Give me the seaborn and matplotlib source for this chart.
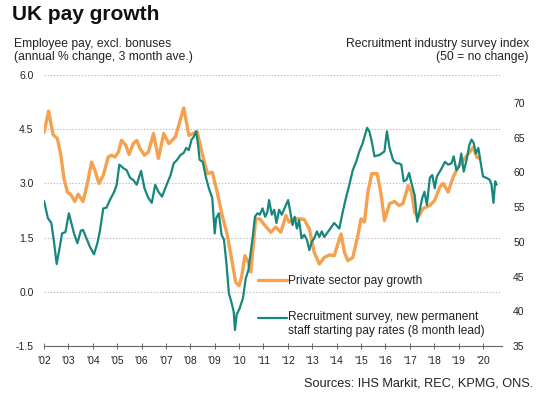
import matplotlib
matplotlib.use("Agg")
import matplotlib.pyplot as plt
from matplotlib.legend_handler import HandlerLine2D
import seaborn as sns
import pandas as pd
import numpy as np

# ---- data (decimal years) ----
pay_years = [2002.0, 2002.19, 2002.37, 2002.55, 2002.69, 2002.82, 2002.96, 2003.1, 2003.26, 2003.4,
             2003.6, 2003.78, 2003.95, 2004.09, 2004.25, 2004.43, 2004.63, 2004.77, 2004.91, 2005.05,
             2005.18, 2005.35, 2005.49, 2005.66, 2005.8, 2005.94, 2006.12, 2006.28, 2006.49, 2006.69,
             2006.91, 2007.12, 2007.39, 2007.73, 2007.94, 2008.28, 2008.49, 2008.7, 2008.9, 2009.1,
             2009.31, 2009.52, 2009.72, 2009.86, 2010.0, 2010.1, 2010.24, 2010.38, 2010.48, 2010.68,
             2010.85, 2011.0, 2011.3, 2011.5, 2011.71, 2011.92, 2012.05, 2012.26, 2012.47, 2012.67,
             2012.88, 2013.08, 2013.29, 2013.49, 2013.7, 2013.9, 2014.18, 2014.32, 2014.46, 2014.66,
             2014.87, 2015.0, 2015.14, 2015.28, 2015.44, 2015.66, 2015.83, 2015.96, 2016.17, 2016.37,
             2016.55, 2016.72, 2016.93, 2017.07, 2017.2, 2017.34, 2017.54, 2017.82, 2018.02, 2018.23,
             2018.37, 2018.57, 2018.78, 2018.98, 2019.19, 2019.4, 2019.6, 2019.74, 2019.86]
pay_growth = [4.41, 5.0, 4.35, 4.24, 3.78, 3.13, 2.76, 2.69, 2.5, 2.7,
              2.5, 3.0, 3.59, 3.36, 3.0, 3.22, 3.73, 3.78, 3.73, 3.87,
              4.19, 4.06, 3.8, 4.1, 4.19, 3.96, 3.78, 3.87, 4.38, 3.69,
              4.38, 4.1, 4.29, 5.09, 4.33, 4.43, 3.82, 3.27, 3.31, 2.76,
              2.11, 1.56, 0.81, 0.26, 0.17, 0.4, 1.0, 0.81, 0.55, 2.02,
              2.02, 1.88, 1.65, 1.79, 1.65, 2.11, 1.93, 2.02, 2.02, 2.0,
              1.74, 1.09, 0.77, 0.95, 1.02, 1.0, 1.6, 1.09, 0.86, 0.95,
              1.56, 2.02, 1.93, 2.76, 3.27, 3.27, 2.67, 1.97, 2.44, 2.5,
              2.39, 2.44, 2.94, 2.76, 2.2, 2.06, 2.3, 2.39, 2.53, 2.9,
              3.0, 2.76, 3.18, 3.45, 3.64, 3.82, 4.0, 3.73, 3.69]

rec_years = [2002.0, 2002.16, 2002.3, 2002.41, 2002.52, 2002.64, 2002.74, 2002.88, 2003.02, 2003.12,
             2003.23, 2003.37, 2003.51, 2003.6, 2003.74, 2003.88, 2004.05, 2004.19, 2004.29, 2004.43,
             2004.56, 2004.7, 2004.88, 2004.98, 2005.09, 2005.25, 2005.39, 2005.53, 2005.66, 2005.8,
             2005.98, 2006.12, 2006.28, 2006.42, 2006.56, 2006.69, 2006.84, 2007.05, 2007.19, 2007.32,
             2007.46, 2007.6, 2007.73, 2007.83, 2007.94, 2008.05, 2008.14, 2008.24, 2008.32, 2008.38,
             2008.51, 2008.63, 2008.76, 2008.9, 2009.0, 2009.06, 2009.17, 2009.28, 2009.38, 2009.48,
             2009.58, 2009.7, 2009.78, 2009.83, 2009.9, 2010.02, 2010.16, 2010.27, 2010.38, 2010.48,
             2010.57, 2010.65, 2010.75, 2010.85, 2010.96, 2011.07, 2011.16, 2011.23, 2011.34, 2011.44,
             2011.53, 2011.64, 2011.75, 2011.86, 2012.01, 2012.1, 2012.19, 2012.28, 2012.37, 2012.46,
             2012.56, 2012.67, 2012.78, 2012.88, 2012.98, 2013.08, 2013.19, 2013.29, 2013.39, 2013.49,
             2013.7, 2013.9, 2014.11, 2014.25, 2014.38, 2014.52, 2014.66, 2014.8, 2014.93, 2015.07,
             2015.14, 2015.25, 2015.34, 2015.44, 2015.55, 2015.76, 2015.96, 2016.06, 2016.17, 2016.31,
             2016.44, 2016.55, 2016.65, 2016.75, 2016.86, 2016.97, 2017.07, 2017.2, 2017.3, 2017.41,
             2017.51, 2017.6, 2017.7, 2017.82, 2017.92, 2018.02, 2018.11, 2018.23, 2018.34, 2018.44,
             2018.57, 2018.71, 2018.8, 2018.91, 2019.02, 2019.11, 2019.21, 2019.33, 2019.44, 2019.53,
             2019.62, 2019.71, 2019.81, 2019.9, 2020.0, 2020.14, 2020.28, 2020.35, 2020.43, 2020.5,
             2020.56]
rec_index = [55.9, 53.4, 52.7, 50.0, 46.8, 49.1, 51.2, 51.4, 54.1, 52.7,
             51.2, 49.8, 51.6, 51.7, 50.5, 49.3, 48.2, 49.8, 51.5, 54.8,
             54.9, 56.0, 57.2, 58.2, 61.1, 60.6, 60.3, 59.2, 58.9, 58.2,
             60.2, 57.7, 56.3, 55.6, 58.2, 57.2, 56.5, 58.4, 59.6, 61.3,
             61.8, 62.5, 62.8, 63.5, 63.2, 64.7, 65.1, 65.9, 63.9, 61.8,
             61.5, 59.4, 57.7, 56.3, 51.2, 53.4, 54.1, 51.0, 50.3, 46.9,
             42.6, 41.1, 39.9, 37.3, 39.5, 40.4, 41.9, 44.7, 45.9, 48.6,
             51.0, 53.6, 54.1, 53.9, 54.8, 53.6, 54.3, 56.0, 53.9, 54.6,
             52.7, 54.6, 53.9, 54.8, 56.0, 54.3, 52.4, 53.6, 51.9, 53.1,
             50.5, 51.0, 50.3, 48.8, 50.0, 50.5, 51.5, 50.7, 51.5, 50.7,
             51.7, 52.7, 51.9, 54.3, 56.3, 58.2, 60.3, 61.5, 63.0, 64.2,
             65.1, 66.4, 65.9, 64.4, 62.3, 62.5, 63.0, 65.9, 63.5, 61.8,
             61.3, 61.3, 61.1, 58.7, 58.9, 59.9, 58.4, 56.7, 52.9, 54.6,
             56.3, 57.2, 55.3, 59.2, 59.6, 57.7, 59.4, 60.1, 60.8, 61.5,
             61.1, 61.3, 62.3, 60.3, 60.8, 62.7, 60.1, 61.8, 63.9, 64.7,
             64.2, 62.7, 63.5, 61.5, 59.4, 59.2, 58.9, 58.2, 55.6, 58.7,
             58.2]

x_tick_vals = list(range(2002, 2021))
x_tick_labels = ["'" + str(y)[2:] for y in x_tick_vals]
left_ticks = [-1.5, 0.0, 1.5, 3.0, 4.5, 6.0]
right_ticks = [35, 40, 45, 50, 55, 60, 65, 70]

pay_label = "Private sector pay growth"
rec_label = "Recruitment survey, new permanent\nstaff starting pay rates (8 month lead)"

ORANGE = "#F6A14F"
TEAL = "#17877D"


class FirstLineHandler(HandlerLine2D):
    """Place the legend line level with the first line of a two-line label."""
    def __init__(self, shift=0.0, **kw):
        super().__init__(**kw)
        self.shift = shift

    def create_artists(self, legend, orig_handle, xdescent, ydescent, width, height,
                       fontsize, trans):
        arts = super().create_artists(legend, orig_handle, xdescent, ydescent, width,
                                      height, fontsize, trans)
        for a in arts:
            yd = np.asarray(a.get_ydata(), dtype=float)
            a.set_ydata(yd + self.shift * fontsize)
        return arts


sns.set_theme(style="white")
plt.rcParams['font.family'] = ['Liberation Sans', 'DejaVu Sans']

df_pay = pd.DataFrame({"year": pay_years, "value": pay_growth})
df_rec = pd.DataFrame({"year": rec_years, "value": rec_index})

fig = plt.figure(figsize=(5.43, 3.99), dpi=100)
ax = fig.add_axes([44 / 543, 53 / 399, 458 / 543, 271 / 399])
ax2 = ax.twinx()

sns.lineplot(data=df_pay, x="year", y="value", ax=ax, color=ORANGE, linewidth=2.4,
             label=pay_label, legend=False)
sns.lineplot(data=df_rec, x="year", y="value", ax=ax2, color=TEAL, linewidth=1.6,
             label=rec_label, legend=False)

ax.set_xlim(2002.0, 2020.78)
ax.set_ylim(-1.5, 6.0)
ax2.set_ylim(35, 74.0)

ax.set_xticks(x_tick_vals)
ax.set_xticklabels(x_tick_labels, fontsize=7.5, color="#222222")
ax.set_yticks(left_ticks)
ax.set_yticklabels([f"{v:.1f}" for v in left_ticks], fontsize=7.5, color="#222222")
ax2.set_yticks(right_ticks)
ax2.set_yticklabels([str(v) for v in right_ticks], fontsize=7.5, color="#222222")

ax.set_xlabel("")
ax.set_ylabel("")
ax2.set_xlabel("")
ax2.set_ylabel("")

ax.yaxis.grid(True, linestyle=(0, (1.2, 1.6)), color="#bdbdbd", linewidth=0.8)
ax.xaxis.grid(False)
ax2.grid(False)

for a in (ax, ax2):
    for s in ("top", "right", "left"):
        a.spines[s].set_visible(False)
ax2.spines["bottom"].set_visible(False)
ax.spines["bottom"].set_color("#666666")
ax.spines["bottom"].set_linewidth(0.8)

ax.tick_params(axis="x", direction="inout", length=4, width=0.7, color="#666666", pad=5, bottom=True)
ax.tick_params(axis="y", length=0, pad=7.5)
ax2.tick_params(axis="y", length=0, pad=8)

# legend
h1, l1 = ax.get_legend_handles_labels()
h2, l2 = ax2.get_legend_handles_labels()
leg = ax2.legend(h1 + h2, l1 + l2, loc="upper left", bbox_to_anchor=(258 / 543, 1 - 275 / 399),
                 bbox_transform=fig.transFigure, frameon=False, fontsize=8.6,
                 handlelength=2.4, handletextpad=0.15, labelspacing=2.05, borderpad=0,
                 borderaxespad=0,
                 handler_map={h2[0]: FirstLineHandler(shift=0.6)})
for t in leg.get_texts():
    t.set_color("#222222")

fig.text(12 / 543, 1 - 15 / 399, "UK pay growth", fontsize=15, fontweight="bold",
         ha="left", va="center", color="#111111")
fig.text(14 / 543, 1 - 44 / 399, "Employee pay, excl. bonuses", fontsize=8.7,
         ha="left", va="center", color="#222222")
fig.text(14 / 543, 1 - 57 / 399, "(annual % change, 3 month ave.)", fontsize=8.7,
         ha="left", va="center", color="#222222")
fig.text(529 / 543, 1 - 44 / 399, "Recruitment industry survey index", fontsize=8.7,
         ha="right", va="center", color="#222222")
fig.text(529 / 543, 1 - 57 / 399, "(50 = no change)", fontsize=8.7,
         ha="right", va="center", color="#222222")
fig.text(533 / 543, 1 - 383 / 399, "Sources: IHS Markit, REC, KPMG, ONS.", fontsize=9.2,
         ha="right", va="center", color="#222222")

fig.savefig("out.png", dpi=100)
